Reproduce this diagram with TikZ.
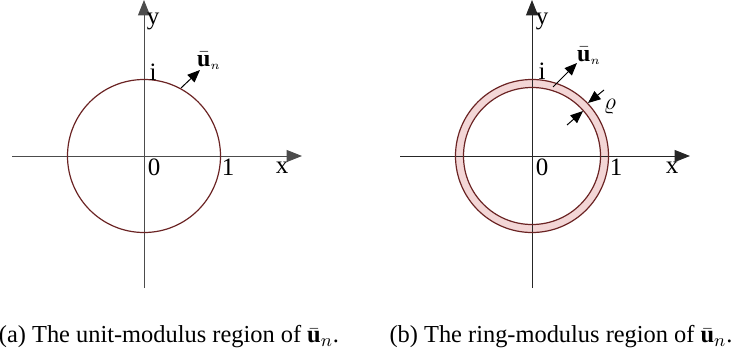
\documentclass[tikz,border=0pt]{standalone}
\usepackage{amsmath}
\usepackage{fontspec}
\setmainfont{Liberation Serif}
\usetikzlibrary{arrows.meta,positioning}
\definecolor{circred}{HTML}{6B2424}
\definecolor{ringpink}{HTML}{F3D6D6}
\tikzset{
  axisarr/.style={-{Triangle[length=2.7mm,width=2.1mm]}, line width=0.45pt, draw=black!70},
  normarr/.style={-{Triangle[length=2.2mm,width=1.8mm]}, line width=0.5pt, draw=black},
  circline/.style={draw=circred, line width=0.6pt},
  axlbl/.style={font=\fontsize{12.5}{14}\selectfont, inner sep=0pt},
}

\begin{document}
\begin{tikzpicture}[
  x=0.5pt, y=-0.5pt,
  caplbl/.style={font=\fontsize{12.2}{14}\selectfont, inner sep=0pt},
]
  \useasboundingbox (0,0) rectangle (734,360);
  % (a) unit circle
  \coordinate (oa) at (144,156);
  \coordinate (xa0) at (12,156);
  \coordinate (xa1) at (302,156);
  \coordinate (ya0) at (144,288);
  \coordinate (ya1) at (144,0);
  \draw[axisarr] (xa0) -- (xa1);
  \draw[axisarr] (ya0) -- (ya1);
  \draw[circline] (oa) circle[radius=76.5];
  \node[axlbl] (ya) at (153,21) {y};
  \node[axlbl] (ia) at (153,72) {i};
  \node[axlbl] (za) at (154,167) {0};
  \node[axlbl] (oneA) at (228,167) {1};
  \node[axlbl] (xa) at (282,168) {x};
  \coordinate (una0) at (181,88);
  \coordinate (una1) at (200,70);
  \draw[normarr] (una0) -- (una1);
  \node[inner sep=0pt, font=\large] (una) at (209,61) {$\bar{\mathbf{u}}_{\scriptscriptstyle n}$};
  \node[caplbl] (capa) at (169,337) {(a) The unit-modulus region of $\bar{\mathbf{u}}_n$.};

  % (b) ring
  \coordinate (ob) at (532,156);
  \coordinate (xb0) at (400,156);
  \coordinate (xb1) at (690,156);
  \coordinate (yb0) at (532,288);
  \coordinate (yb1) at (532,0);
  \fill[ringpink, even odd rule] (ob) circle[radius=76.5] (ob) circle[radius=68.5];
  \draw[axisarr, draw=black!85] (xb0) -- (xb1);
  \draw[axisarr, draw=black!85] (yb0) -- (yb1);
  \draw[circline] (ob) circle[radius=76.5];
  \draw[circline] (ob) circle[radius=68.5];
  \node[axlbl] (yb) at (542,21) {y};
  \node[axlbl] (ib) at (542,71) {i};
  \node[axlbl] (zb) at (542,167) {0};
  \node[axlbl] (oneB) at (616,167) {1};
  \node[axlbl] (xb) at (672,168) {x};
  \coordinate (unb0) at (553,87);
  \coordinate (unb1) at (577,63);
  \draw[normarr] (unb0) -- (unb1);
  \node[inner sep=0pt, font=\large] (unb) at (589,56) {$\bar{\mathbf{u}}_{\scriptscriptstyle n}$};
  \coordinate (rho0) at (604,90);
  \coordinate (rho1) at (588,103);
  \coordinate (rho2) at (567,125);
  \coordinate (rho3) at (583,111);
  \draw[normarr] (rho0) -- (rho1);
  \draw[normarr] (rho2) -- (rho3);
  \node[inner sep=0pt, font=\large] (rho) at (610,107) {$\varrho$};
  \node[caplbl] (capb) at (561,337) {(b) The ring-modulus region of $\bar{\mathbf{u}}_n$.};
\end{tikzpicture}
\end{document}
